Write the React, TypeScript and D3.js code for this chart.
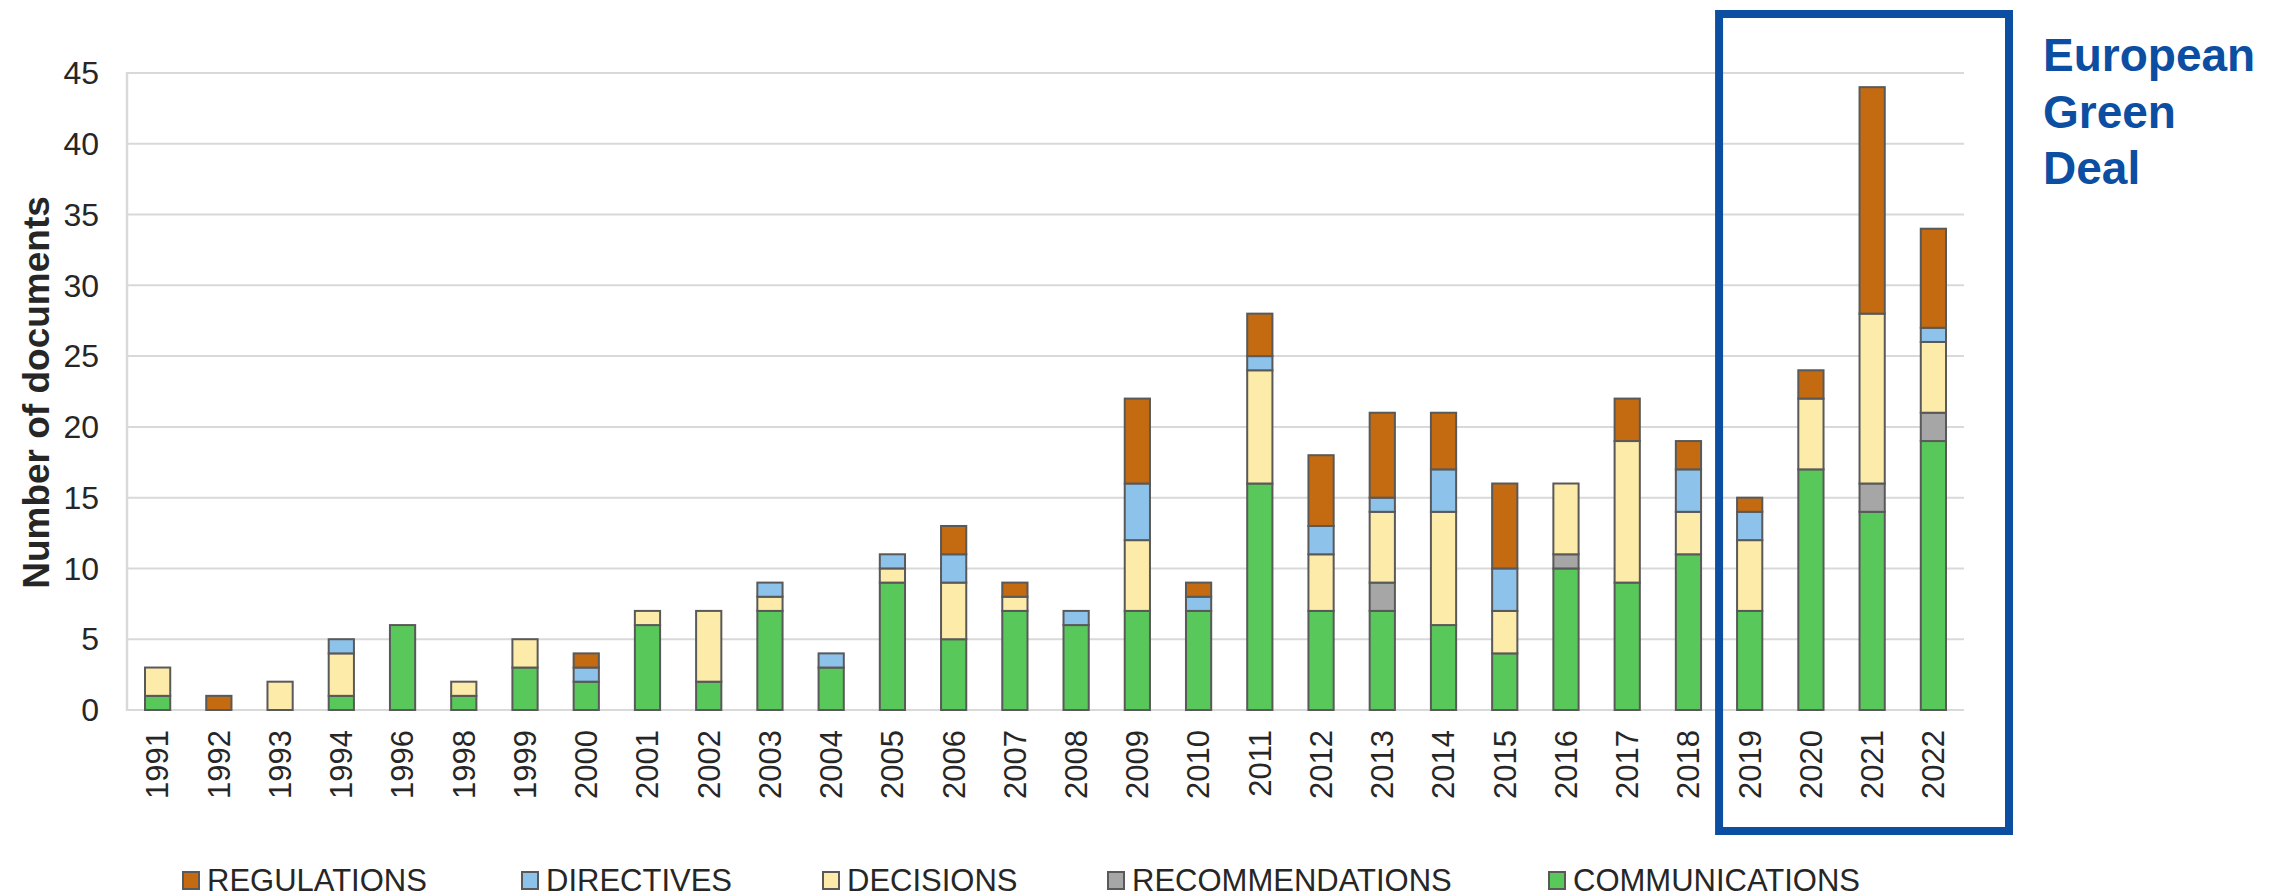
import React from "react";
import * as d3 from "d3";

const years = ["1991","1992","1993","1994","1996","1998","1999","2000","2001","2002","2003","2004","2005","2006","2007","2008","2009","2010","2011","2012","2013","2014","2015","2016","2017","2018","2019","2020","2021","2022"];
const communications = [1,0,0,1,6,1,3,2,6,2,7,3,9,5,7,6,7,7,16,7,7,6,4,10,9,11,7,17,14,19];
const recommendations = [0,0,0,0,0,0,0,0,0,0,0,0,0,0,0,0,0,0,0,0,2,0,0,1,0,0,0,0,2,2];
const decisions = [2,0,2,3,0,1,2,0,1,5,1,0,1,4,1,0,5,0,8,4,5,8,3,5,10,3,5,5,12,5];
const directives = [0,0,0,1,0,0,0,1,0,0,1,1,1,2,0,1,4,1,1,2,1,3,3,0,0,3,2,0,0,1];
const regulations = [0,1,0,0,0,0,0,1,0,0,0,0,0,2,1,0,6,1,3,5,6,4,6,0,3,2,1,2,16,7];
const yTicks = [0,5,10,15,20,25,30,35,40,45];

const seriesKeys = ["communications","recommendations","decisions","directives","regulations"];
const seriesLabels: Record<string,string> = {
  regulations: "REGULATIONS",
  directives: "DIRECTIVES",
  decisions: "DECISIONS",
  recommendations: "RECOMMENDATIONS",
  communications: "COMMUNICATIONS",
};
const colors: Record<string,string> = {
  communications: "#59C85B",
  recommendations: "#A6A6A6",
  decisions: "#FDEBA9",
  directives: "#8DC3EA",
  regulations: "#C46A11",
};
const legendOrder = ["regulations","directives","decisions","recommendations","communications"];
const legendX = [183, 522, 823, 1108, 1549];
const highlightYears = ["2019","2022"];
const highlightLabel = ["European","Green","Deal"];

const W = 2293, H = 895;
const M = { left: 127, right: 1964, top: 73, bottom: 710 };
const FONT = "'Liberation Sans', Arial, Helvetica, sans-serif";

export default function App() {
  const table = years.map((y, i) => ({
    year: y,
    communications: communications[i],
    recommendations: recommendations[i],
    decisions: decisions[i],
    directives: directives[i],
    regulations: regulations[i],
  }));
  const stack = d3.stack<any>().keys(seriesKeys)(table);
  const x = d3.scaleBand().domain(years).range([M.left, M.right]).paddingInner(0.588).paddingOuter(0.294);
  const y = d3.scaleLinear().domain([0, 45]).range([M.bottom, M.top]);
  const bw = x.bandwidth();
  const step = x.step();
  const hx0 = (x(highlightYears[0]) as number) - (step - bw) / 2;
  const hx1 = (x(highlightYears[1]) as number) + bw + (step - bw) / 2 + 45;

  return (
    <svg width={W} height={H} style={{ position: "absolute", left: 0, top: 0, background: "#fff" }} fontFamily={FONT}>
      <rect x={0} y={0} width={W} height={H} fill="#fff" />
      {yTicks.map((t) => (
        <g key={t}>
          <line x1={M.left} x2={M.right} y1={y(t)} y2={y(t)} stroke="#D9D9D9" strokeWidth={2} />
          <text x={99} y={y(t)} dy="0.35em" textAnchor="end" fontSize={32} fill="#262626">{t}</text>
        </g>
      ))}
      <line x1={M.left} x2={M.left} y1={M.top - 1} y2={M.bottom + 1} stroke="#D9D9D9" strokeWidth={2.5} />
      <text transform={`translate(49, ${(M.top + M.bottom) / 2 + 1}) rotate(-90)`} textAnchor="middle" fontSize={37} fontWeight="bold" fill="#262626">Number of documents</text>
      {stack.map((s) => (
        <g key={s.key} fill={colors[s.key]}>
          {s.map((d, i) => (d[1] - d[0] > 0 ? (
            <rect key={i} x={x(years[i])} width={bw} y={y(d[1])} height={y(d[0]) - y(d[1])} stroke="#595959" strokeWidth={2} />
          ) : null))}
        </g>
      ))}
      {years.map((yr) => (
        <text key={yr} transform={`translate(${(x(yr) as number) + bw / 2}, ${M.bottom + 20}) rotate(-90)`} dy="0.35em" textAnchor="end" fontSize={31} fill="#262626">{yr}</text>
      ))}
      <rect x={hx0} y={14} width={hx1 - hx0} height={817} fill="none" stroke="#0B4EA2" strokeWidth={8} />
      {highlightLabel.map((w, i) => (
        <text key={w} x={2043} y={71 + i * 56.5} fontSize={46} fontWeight="bold" fill="#0B4EA2">{w}</text>
      ))}
      {legendOrder.map((k, i) => (
        <g key={k}>
          <rect x={legendX[i]} y={872} width={16} height={17} fill={colors[k]} stroke="#595959" strokeWidth={2} />
          <text x={legendX[i] + 24} y={891} fontSize={31} fill="#262626">{seriesLabels[k]}</text>
        </g>
      ))}
    </svg>
  );
}
